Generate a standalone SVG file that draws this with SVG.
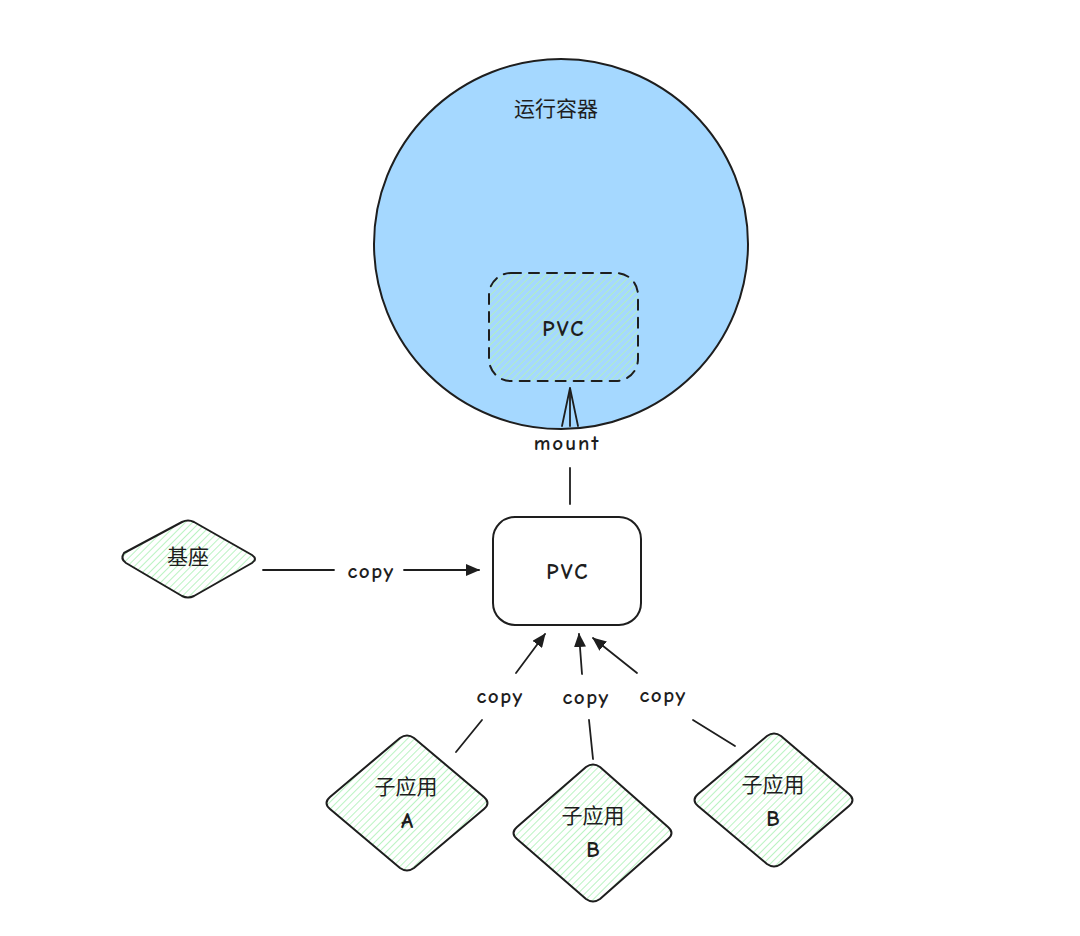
<svg xmlns="http://www.w3.org/2000/svg" width="1080" height="936" viewBox="0 0 1080 936">
  <style>
    .stroke { stroke: #1e1e1e; stroke-width: 2; stroke-linecap: round; stroke-linejoin: round; }
    .conn { fill: none; stroke: #1e1e1e; stroke-width: 1.8; stroke-linecap: round; }
    .hatched { fill: url(#hatch); }
    .hand { font-family: "Comic Neue", "Noto Sans", "Liberation Sans", sans-serif; fill: #1e1e1e; text-anchor: middle; font-weight: 600; }
    .cjk { font-family: "Noto Sans CJK SC", "Noto Sans", sans-serif; fill: #1e1e1e; text-anchor: middle; font-size: 21px; }
    .lbl { font-size: 21px; letter-spacing: 1.5px; }
    .pvc { font-size: 22px; letter-spacing: 2.5px; }
  </style>
  <defs>
    <pattern id="hatch" patternUnits="userSpaceOnUse" width="5" height="5" patternTransform="rotate(45)">
      <line x1="0" y1="0" x2="0" y2="5" stroke="#b2f2bb" stroke-width="1.8"/>
    </pattern>
    <radialGradient id="shade" cx="0.5" cy="1" r="0.5" fx="0.5" fy="1">
      <stop offset="0" stop-color="#e6e6e6" stop-opacity="1"/>
      <stop offset="0.6" stop-color="#eeeeee" stop-opacity="0.7"/>
      <stop offset="1" stop-color="#ffffff" stop-opacity="0"/>
    </radialGradient>
    <marker id="tri" markerWidth="14" markerHeight="12" refX="13" refY="6" orient="auto" markerUnits="userSpaceOnUse">
      <path d="M0,0 L14,6 L0,12 Z" fill="#1e1e1e"/>
    </marker>
  </defs>

  <rect x="0" y="0" width="1080" height="936" fill="#ffffff"/>
  <ellipse cx="560" cy="945" rx="480" ry="60" fill="url(#shade)"/>

  <g id="container">
    <ellipse cx="561" cy="244" rx="187" ry="185" fill="#a5d8ff"/>
    <ellipse cx="561" cy="244" rx="187" ry="185" fill="none" class="stroke"/>
    <text x="556" y="116" class="cjk">运行容器</text>
  </g>

  <g id="pvc-mounted">
    <rect x="489" y="273" width="149" height="108" rx="22" class="hatched"/>
    <rect x="489" y="273" width="149" height="108" rx="22" fill="none" class="stroke" stroke-dasharray="10 8"/>
    <text x="564" y="336" class="hand pvc">PVC</text>
  </g>

  <g id="pvc">
    <rect x="493" y="517" width="148" height="108" rx="22" fill="#ffffff" class="stroke"/>
    <text x="568" y="579" class="hand pvc">PVC</text>
  </g>

  <g id="base">
    <path d="M124,553 Q120,559 126,563 L182,596 Q188,599 194,596 L252,563 Q258,559 252,555 L194,522 Q188,519 182,522 Z" class="hatched stroke"/>
    <text x="188" y="564" class="cjk">基座</text>
  </g>

  <g id="app-a">
    <path d="M330,797 Q323,803 330,809 L400,868 Q407,873 414,868 L484,809 Q491,803 484,797 L414,738 Q407,733 400,738 Z" class="hatched stroke"/>
    <text x="406" y="794" class="cjk">子应用</text>
    <text x="407" y="828" class="hand" font-size="22">A</text>
  </g>

  <g id="app-b1">
    <path d="M517,827 Q510,833 517,839 L586,899 Q593,904 600,899 L668,839 Q675,833 668,827 L600,767 Q593,762 586,767 Z" class="hatched stroke"/>
    <text x="593" y="823" class="cjk">子应用</text>
    <text x="593" y="857" class="hand" font-size="22">B</text>
  </g>

  <g id="app-b2">
    <path d="M698,794 Q691,800 698,806 L767,864 Q774,869 781,864 L849,806 Q856,800 849,794 L781,736 Q774,731 767,736 Z" class="hatched stroke"/>
    <text x="773" y="792" class="cjk">子应用</text>
    <text x="773" y="826" class="hand" font-size="22">B</text>
  </g>

  <g id="connectors">
    <!-- mount -->
    <line x1="570" y1="504" x2="570" y2="468" class="conn"/>
    <line x1="570" y1="426" x2="570" y2="388" class="conn"/>
    <path d="M562,426 L570,388 L578,426" class="conn"/>
    <text x="567" y="450" class="hand" font-size="21" letter-spacing="2">mount</text>

    <!-- base copy -->
    <line x1="263" y1="570" x2="334" y2="570" class="conn"/>
    <line x1="404" y1="570" x2="479" y2="570" class="conn" marker-end="url(#tri)"/>
    <text x="371" y="578" class="hand lbl">copy</text>

    <!-- app A -->
    <line x1="456" y1="752" x2="482" y2="720" class="conn"/>
    <line x1="516" y1="673" x2="545" y2="634" class="conn" marker-end="url(#tri)"/>
    <text x="500" y="703" class="hand lbl">copy</text>

    <!-- app B middle -->
    <line x1="593" y1="759" x2="589" y2="720" class="conn"/>
    <line x1="582" y1="674" x2="579" y2="634" class="conn" marker-end="url(#tri)"/>
    <text x="586" y="704" class="hand lbl">copy</text>

    <!-- app B right -->
    <line x1="735" y1="746" x2="693" y2="720" class="conn"/>
    <line x1="637" y1="673" x2="593" y2="638" class="conn" marker-end="url(#tri)"/>
    <text x="663" y="702" class="hand lbl">copy</text>
  </g>
</svg>
